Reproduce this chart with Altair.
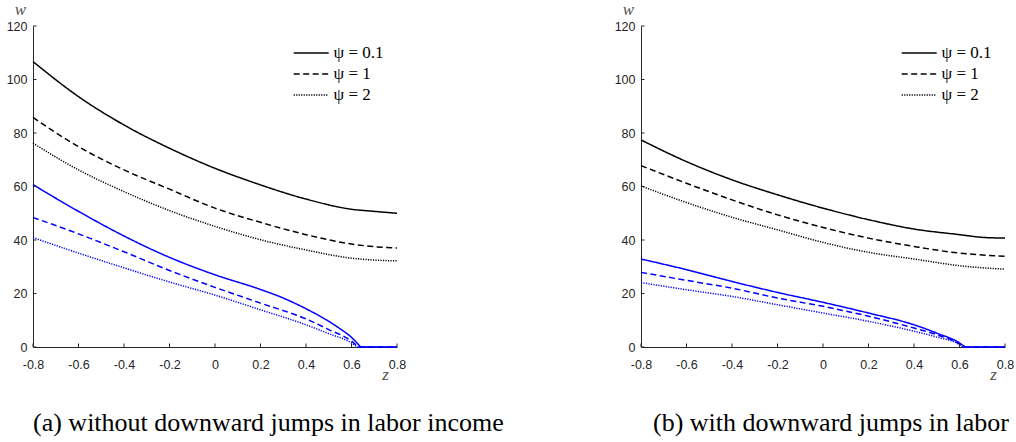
import altair as alt
import pandas as pd

# ---------------- data ----------------
PSI_LABELS = ["ψ = 0.1", "ψ = 1", "ψ = 2"]

Z_BLACK = [-0.8, -0.6, -0.4, -0.2, 0.0, 0.2, 0.4, 0.6, 0.7, 0.8]

# panel (a): without downward jumps
A_BLACK_01 = [106.7, 93.6, 83.0, 74.3, 66.8, 60.6, 55.3, 51.5, 50.7, 50.0]
A_BLACK_1 = [85.8, 74.9, 66.2, 59.0, 51.9, 46.6, 42.0, 38.5, 37.5, 37.0]
A_BLACK_2 = [76.2, 66.2, 58.1, 51.0, 45.1, 40.1, 36.3, 33.2, 32.5, 32.2]

A_BLUE_01_Z = [-0.8, -0.6, -0.4, -0.2, 0.0, 0.2, 0.3, 0.4, 0.5, 0.55, 0.6, 0.64, 0.8]
A_BLUE_01 = [60.7, 50.7, 41.5, 33.5, 27.0, 21.5, 18.3, 14.3, 9.6, 6.8, 3.6, 0.0, 0.0]
A_BLUE_1_Z = [-0.8, -0.6, -0.4, -0.2, 0.0, 0.2, 0.4, 0.5, 0.6, 0.63, 0.8]
A_BLUE_1 = [48.4, 42.3, 35.6, 28.6, 22.3, 16.4, 10.5, 6.5, 2.2, 0.0, 0.0]
A_BLUE_2_Z = [-0.8, -0.6, -0.4, -0.2, 0.0, 0.2, 0.4, 0.5, 0.6, 0.625, 0.8]
A_BLUE_2 = [40.9, 35.1, 29.6, 24.3, 19.4, 13.9, 8.3, 5.0, 1.5, 0.0, 0.0]

# panel (b): with downward jumps
B_BLACK_01 = [77.4, 69.3, 62.5, 56.9, 51.9, 47.6, 44.1, 42.0, 41.0, 40.7]
B_BLACK_1 = [67.8, 61.2, 55.0, 49.4, 44.7, 40.7, 37.6, 35.1, 34.4, 33.9]
B_BLACK_2 = [60.2, 54.0, 48.5, 43.8, 39.1, 35.4, 32.9, 30.4, 29.6, 29.1]

B_BLUE_01_Z = [-0.8, -0.6, -0.4, -0.2, 0.0, 0.2, 0.4, 0.5, 0.6, 0.625, 0.8]
B_BLUE_01 = [32.9, 28.9, 24.5, 20.4, 16.7, 12.7, 8.3, 5.2, 1.5, 0.0, 0.0]
B_BLUE_1_Z = [-0.8, -0.6, -0.4, -0.2, 0.0, 0.2, 0.4, 0.5, 0.6, 0.62, 0.8]
B_BLUE_1 = [27.9, 24.9, 22.0, 18.3, 15.2, 11.5, 7.1, 4.6, 1.1, 0.0, 0.0]
B_BLUE_2_Z = [-0.8, -0.6, -0.4, -0.2, 0.0, 0.2, 0.4, 0.5, 0.6, 0.615, 0.8]
B_BLUE_2 = [24.1, 21.4, 18.9, 15.8, 12.7, 9.6, 5.9, 3.7, 0.9, 0.0, 0.0]

X_TICKS = [-0.8, -0.6, -0.4, -0.2, 0.0, 0.2, 0.4, 0.6, 0.8]
Y_TICKS = [0, 20, 40, 60, 80, 100, 120]

CAPTION_A = "(a) without downward jumps in labor income"
CAPTION_B = "(b) with downward jumps in labor income"

# ---------------- styling ----------------
W, H = 364, 321
AX = "#262626"
DASHES = [[1, 0], [6, 3.5], [1.2, 1.3]]


def build_df(black, blue):
    rows = []
    for psi, vals in zip(PSI_LABELS, black):
        for z, w in zip(Z_BLACK, vals):
            rows.append({"z": z, "w": w, "psi": psi, "col": "black", "series": "k" + psi})
    for psi, (zs, vals) in zip(PSI_LABELS, blue):
        first_zero = next(i for i, v in enumerate(vals) if v == 0)
        for i, (z, w) in enumerate(zip(zs, vals)):
            if i <= first_zero:  # falling part, ending where w reaches 0
                rows.append({"z": z, "w": w, "psi": psi, "col": "#0000ff",
                             "series": "b" + psi + "-fall"})
            if i >= first_zero:  # flat part at 0
                rows.append({"z": z, "w": w, "psi": psi, "col": "#0000ff",
                             "series": "b" + psi + "-flat"})
    return pd.DataFrame(rows)


df_a = build_df([A_BLACK_01, A_BLACK_1, A_BLACK_2],
                [(A_BLUE_01_Z, A_BLUE_01), (A_BLUE_1_Z, A_BLUE_1), (A_BLUE_2_Z, A_BLUE_2)])
df_b = build_df([B_BLACK_01, B_BLACK_1, B_BLACK_2],
                [(B_BLUE_01_Z, B_BLUE_01), (B_BLUE_1_Z, B_BLUE_1), (B_BLUE_2_Z, B_BLUE_2)])

xt = pd.DataFrame({"t": X_TICKS})
yt = pd.DataFrame({"t": Y_TICKS})

xscale = alt.Scale(domain=[-0.8, 0.8], nice=False, zero=False)
yscale = alt.Scale(domain=[0, 120], nice=False)

x_label_expr = ("datum.value == 0 ? '0' : (datum.value < 0 ? '-' + format(-datum.value, '.1f')"
                " : format(datum.value, '.1f'))")


def panel(df, caption, dx):
    xaxis = alt.Axis(values=X_TICKS, ticks=False, tickSize=0, grid=False,
                     domainColor=AX, domainWidth=1,
                     labelColor=AX, labelFont="Liberation Sans", labelFontSize=12.5,
                     labelPadding=11, labelExpr=x_label_expr, labelFlush=False,
                     labelOverlap=False,
                     title="z", titleFont="Liberation Serif", titleFontStyle="italic",
                     titleFontWeight="normal", titleFontSize=17, titleColor="#505050",
                     titleX=352, titleY=32, titleBaseline="alphabetic", titleAlign="center")
    yaxis = alt.Axis(values=Y_TICKS, ticks=False, tickSize=0, grid=False,
                     domainColor=AX, domainWidth=1,
                     labelColor=AX, labelFont="Liberation Sans", labelFontSize=12.5,
                     labelPadding=6, labelOverlap=False,
                     title="w", titleFont="Liberation Serif", titleFontStyle="italic",
                     titleFontWeight="normal", titleFontSize=17, titleColor="#505050",
                     titleAngle=0, titleX=-13, titleY=-12, titleBaseline="alphabetic",
                     titleAlign="center")
    legend = alt.Legend(title=None, orient="none", legendX=258, legendY=18.5,
                        symbolType="M-1,0H5", symbolSize=136, symbolStrokeWidth=1.5,
                        symbolStrokeColor="black", symbolFillColor="transparent",
                        labelFont="Liberation Serif",
                        labelFontSize=17, labelColor="black", labelOffset=25.5,
                        rowPadding=3)
    lines = alt.Chart(df).mark_line(strokeWidth=1.5, interpolate="monotone").encode(
        x=alt.X("z:Q", scale=xscale, axis=xaxis),
        y=alt.Y("w:Q", scale=yscale, axis=yaxis),
        color=alt.Color("col:N", scale=None),
        strokeDash=alt.StrokeDash("psi:N", scale=alt.Scale(domain=PSI_LABELS, range=DASHES),
                                  legend=legend),
        detail="series:N",
    )
    xticks = alt.Chart(xt).mark_rule(color=AX, strokeWidth=1).encode(
        x=alt.X("t:Q", scale=xscale), y=alt.value(H), y2=alt.value(H - 3.5))
    yticks = alt.Chart(yt).mark_rule(color=AX, strokeWidth=1).encode(
        y=alt.Y("t:Q", scale=yscale), x=alt.value(0), x2=alt.value(3.5))
    return alt.layer(lines, xticks, yticks).properties(
        width=W, height=H,
        title=alt.TitleParams(text=caption, orient="bottom", anchor="start", frame="group",
                              font="Liberation Serif", fontSize=26, fontWeight="normal",
                              color="black", offset=28, baseline="top", dx=dx),
    )


chart = alt.hconcat(panel(df_a, CAPTION_A, 0), panel(df_b, CAPTION_B, 12),
                    spacing=244, bounds="flush").resolve_scale(
    strokeDash="independent").resolve_legend(strokeDash="independent").configure_view(
    stroke=None).properties(
    autosize=alt.AutoSizeParams(type="none"),
    padding={"left": 33, "top": 26, "right": 983, "bottom": 416},
    background="white")

chart.save("out.html", embed_options={"renderer": "svg", "actions": False})
